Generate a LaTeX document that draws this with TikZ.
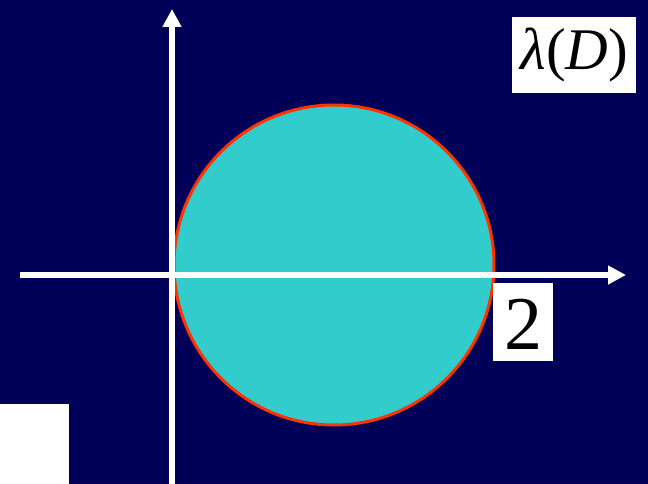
\documentclass[tikz,border=0pt]{standalone}
\usepackage{fontspec}
\setmainfont{Liberation Serif}
\usetikzlibrary{arrows.meta}
\definecolor{bg}{RGB}{0,0,88}
\definecolor{disk}{RGB}{51,204,204}
\definecolor{rim}{RGB}{255,51,0}
\tikzset{
  axis/.style={draw=white, line width=6pt, -{Triangle[length=18pt,width=18pt]}},
  labelbox/.style={fill=white, inner sep=0pt, text=black, anchor=north west}
}
\begin{document}
\begin{tikzpicture}[x=1pt,y=-1pt]
\fill[bg] (0,0) rectangle (648,484);
\useasboundingbox (0,0) rectangle (648,484);
\node[draw=rim, fill=disk, line width=3pt, circle, minimum size=320pt, inner sep=0pt] (D) at (334,265) {};
\coordinate (xs) at (20,275);
\coordinate (xe) at (626,275);
\coordinate (ys) at (172,484);
\coordinate (ye) at (172,9);
\draw[axis] (xs) -- (xe);
\draw[axis] (ys) -- (ye);
\node[labelbox, minimum width=124pt, minimum height=76pt] (L) at (512,17) {};
\node[text=black, font=\fontsize{59}{59}\selectfont] (Lt) at (L.center) {\textit{λ}(\textit{D})};
\node[labelbox, minimum width=60pt, minimum height=78pt] (T) at (493,283) {};
\node[text=black, font=\fontsize{76}{76}\selectfont] (Tt) at ([yshift=-2pt]T.center) {2};
\node[labelbox, minimum width=69pt, minimum height=80pt] (W) at (0,404) {};
\end{tikzpicture}
\end{document}
